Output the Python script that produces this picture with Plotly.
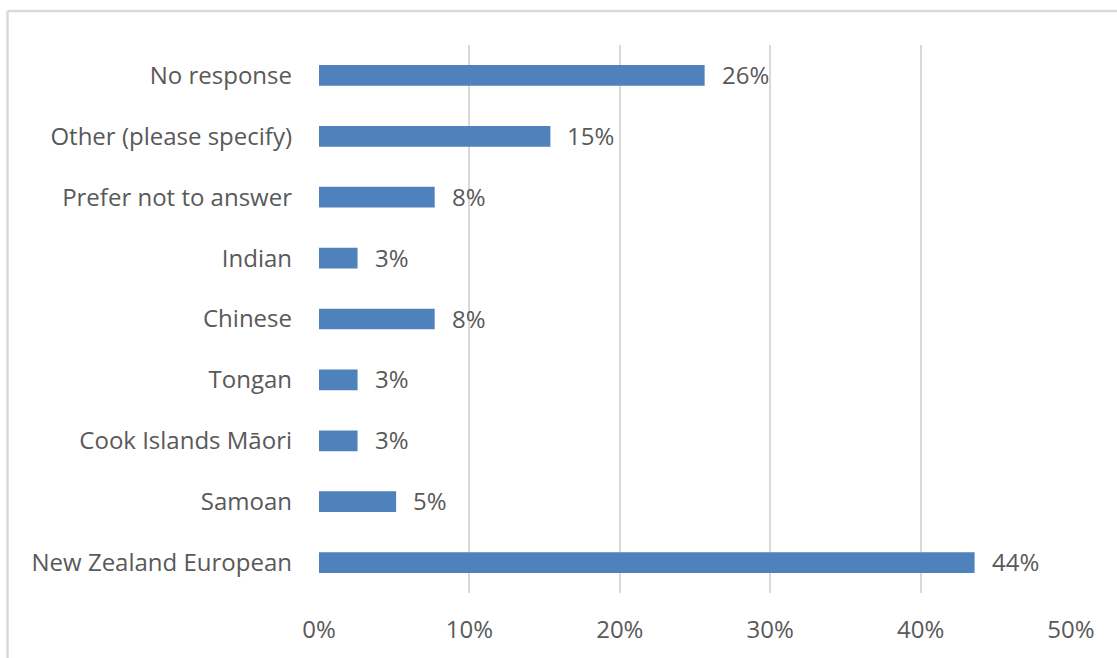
import plotly.graph_objects as go

# Survey responses by ethnicity (share of respondents, n = 39)
categories = [
    "New Zealand European",
    "Samoan",
    "Cook Islands Māori",
    "Tongan",
    "Chinese",
    "Indian",
    "Prefer not to answer",
    "Other (please specify)",
    "No response",
]
counts = [17, 2, 1, 1, 3, 1, 3, 6, 10]
total = 39
shares = [c / total for c in counts]

x_ticks = [0, 0.1, 0.2, 0.3, 0.4, 0.5]
x_tick_labels = ["0%", "10%", "20%", "30%", "40%", "50%"]

W, H = 1117, 658
ML, MR, MT, MB = 319, 46, 45, 65
PW, PH = W - ML - MR, H - MT - MB

TEXT = "#595959"
FONT = "Open Sans"
FS = 24
BAR = "#4f81bd"
GRID = "#d9d9d9"

fig = go.Figure(
    go.Bar(
        x=shares,
        y=categories,
        orientation="h",
        marker=dict(color=BAR, line=dict(width=0)),
        width=0.34,
        hoverinfo="skip",
    )
)

# value labels to the right of each bar
for cat, v in zip(categories, shares):
    fig.add_annotation(
        x=v, y=cat, xref="x", yref="y",
        text=f"{round(v * 100)}%",
        showarrow=False, xanchor="left", yanchor="middle",
        xshift=15, yshift=1,
        font=dict(family=FONT, size=FS, color=TEXT),
    )

# chart frame (top and left edges visible)
fx0 = (7.5 - ML) / PW
fy0 = 1 + (MT - 11) / PH
fig.add_shape(type="line", xref="paper", yref="paper",
              x0=fx0, x1=(W + 20 - ML) / PW, y0=fy0, y1=fy0,
              line=dict(color=GRID, width=2.5))
fig.add_shape(type="line", xref="paper", yref="paper",
              x0=fx0, x1=fx0, y0=fy0, y1=-(MB + 20) / PH,
              line=dict(color=GRID, width=2.5))

fig.update_layout(
    width=W, height=H,
    margin=dict(l=ML, r=MR, t=MT, b=MB),
    paper_bgcolor="white",
    plot_bgcolor="white",
    showlegend=False,
    font=dict(family=FONT, size=FS, color=TEXT),
    xaxis=dict(
        range=[0, 0.5],
        tickvals=x_ticks,
        ticktext=x_tick_labels,
        showgrid=True, gridcolor=GRID, gridwidth=2,
        zeroline=False, showline=False,
        ticks="", ticklabelstandoff=20,
        tickfont=dict(family=FONT, size=FS, color=TEXT),
        fixedrange=True,
    ),
    yaxis=dict(
        categoryorder="array", categoryarray=categories,
        showgrid=False, zeroline=False, showline=False,
        ticks="", ticklabelstandoff=26,
        tickfont=dict(family=FONT, size=FS, color=TEXT),
        range=[-0.5, len(categories) - 0.5],
        fixedrange=True,
    ),
)

fig.write_html("out.html")
